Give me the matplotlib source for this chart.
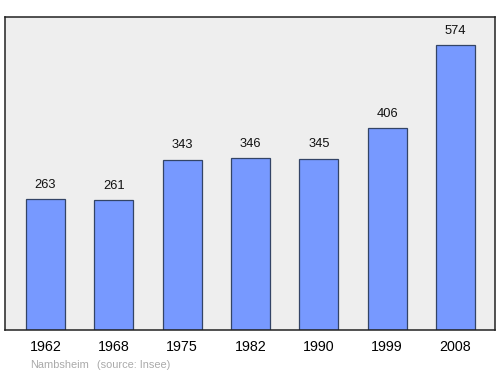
import matplotlib
matplotlib.use("Agg")
import matplotlib.pyplot as plt

years = ["1962", "1968", "1975", "1982", "1990", "1999", "2008"]
population = [263, 261, 343, 346, 345, 406, 574]

plt.rcParams['font.family'] = ['Liberation Sans', 'DejaVu Sans']

fig = plt.figure(figsize=(5, 3.74), dpi=100)
ax = fig.add_axes([0.01, 0.1176, 0.98, 0.8369])
ax.set_facecolor('#eeeeee')
x = list(range(len(years)))
ax.bar(x, population, width=0.57, color='#7799ff', edgecolor='#334466', linewidth=0.9, zorder=2)
for xi, v in zip(x, population):
    ax.annotate(str(v), (xi, v), xytext=(0, 6), textcoords='offset points',
                ha='center', va='bottom', fontsize=9.3, color='#111111')
ax.set_xlim(-0.593, 6.578)
ax.set_ylim(0, 630)
ax.set_xticks(x)
ax.set_xticklabels(years, fontsize=10.3)
ax.tick_params(axis='x', length=0, pad=7)
ax.set_yticks([])
for s in ax.spines.values():
    s.set_color('#222222')
    s.set_linewidth(1.1)
fig.text(0.06, 0.024, "Nambsheim", fontsize=7.9, color='#aaaaaa', ha='left', va='center')
fig.text(0.194, 0.024, "(source: Insee)", fontsize=7.9, color='#aaaaaa', ha='left', va='center')
fig.savefig("out.png", dpi=100)
